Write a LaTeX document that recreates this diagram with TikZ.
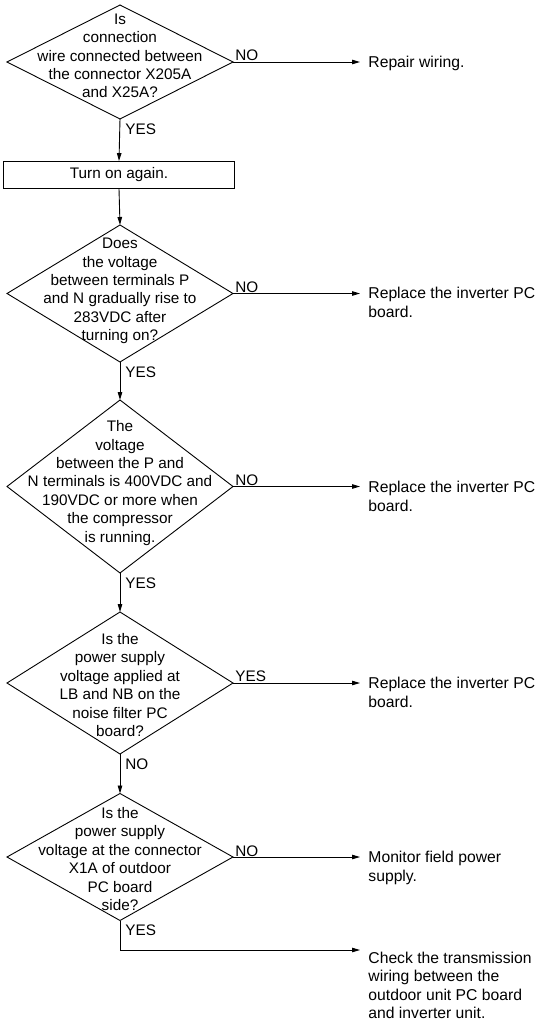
\documentclass[tikz,border=0pt]{standalone}
\usepackage{fontspec}
\setmainfont{Liberation Sans}
\usetikzlibrary{shapes.geometric,arrows.meta}
\begin{document}
\begin{tikzpicture}[x=1pt,y=-1pt,
  line width=0.9pt,
  every node/.style={font=\fontsize{15.3pt}{18.4pt}\selectfont, inner sep=0pt},
  dia/.style={draw, shape=diamond, inner sep=0pt, outer sep=0pt},
  txt/.style={align=center},
  res/.style={align=left, anchor=base west, font=\fontsize{15.7pt}{18.5pt}\selectfont},
  lab/.style={anchor=base west},
  arr/.style={-{Triangle[length=8pt,width=4.5pt]}},
  boxx/.style={draw, minimum width=231pt, minimum height=27pt}
]
\useasboundingbox (0,0) rectangle (539,1022);
% decisions
\node[dia, minimum width=226pt, minimum height=114pt] (d1) at (120,62) {};
\node[txt] (t1) at (120,56) {Is\\connection\\wire connected between\\the connector X205A\\and X25A?};
\node[boxx] (b1) at (119,175) {Turn on again.};
\node[dia, minimum width=226pt, minimum height=137pt] (d2) at (120,293.5) {};
\node[txt] (t2) at (120,291) {Does\\the voltage\\between terminals P\\and N gradually rise to\\283VDC after\\turning on?};
\node[dia, minimum width=226pt, minimum height=173pt] (d3) at (120,486.5) {};
\node[txt] (t3) at (120,483) {The\\voltage\\between the P and\\N terminals is 400VDC and\\190VDC or more when\\the compressor\\is running.};
\node[dia, minimum width=226pt, minimum height=142pt] (d4) at (120,683) {};
\node[txt] (t4) at (120,685) {Is the\\power supply\\voltage applied at\\LB and NB on the\\noise filter PC\\board?};
\node[dia, minimum width=226pt, minimum height=127pt] (d5) at (120,857) {};
\node[txt] (t5) at (120,859) {Is the\\power supply\\voltage at the connector\\X1A of outdoor\\PC board\\side?};
% results (base anchor = baseline of last line)
\node[res] (r1) at (368,67.5) {Repair wiring.};
\node[res] (r2) at (368,317) {Replace the inverter PC\\board.};
\node[res] (r3) at (368,511) {Replace the inverter PC\\board.};
\node[res] (r4) at (368,707) {Replace the inverter PC\\board.};
\node[res] (r5) at (368,881) {Monitor field power\\supply.};
\node[res] (r6) at (368,1018.5) {Check the transmission\\wiring between the\\outdoor unit PC board\\and inverter unit.};
% connectors down
\draw[arr] (d1.south) -- (b1.north);
\draw[arr] (b1.south) -- (d2.north);
\draw[arr] (d2.south) -- (d3.north);
\draw[arr] (d3.south) -- (d4.north);
\draw[arr] (d4.south) -- (d5.north);
% connectors right
\draw[arr] (d1.east) -- (360,62);
\draw[arr] (d2.east) -- (360,293.5);
\draw[arr] (d3.east) -- (360,486.5);
\draw[arr] (d4.east) -- (360,683);
\draw[arr] (d5.east) -- (360,857);
\coordinate (c5) at (120,950);
\draw[arr] (d5.south) -- (c5) -- (360,950);
% labels
\node[lab] (l1) at (235,61) {NO};
\node[lab] (l2) at (235,292) {NO};
\node[lab] (l3) at (235,485) {NO};
\node[lab] (l4) at (235,681) {YES};
\node[lab] (l5) at (235,856) {NO};
\node[lab] (y1) at (125,135) {YES};
\node[lab] (y2) at (125,377) {YES};
\node[lab] (y3) at (125,588) {YES};
\node[lab] (y4) at (125,769) {NO};
\node[lab] (y5) at (125,935) {YES};
\end{tikzpicture}
\end{document}
